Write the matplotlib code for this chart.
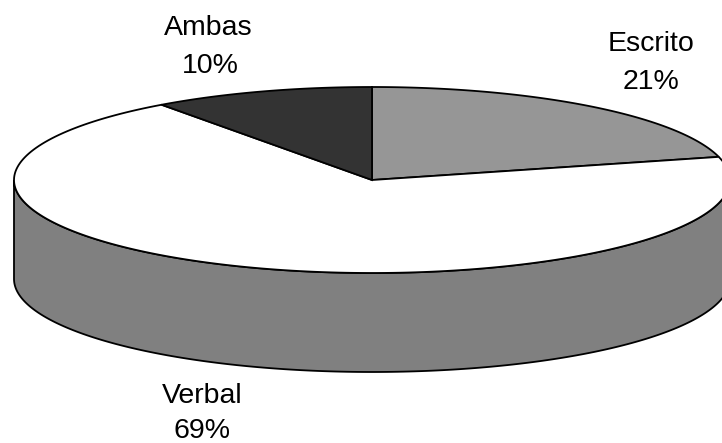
import numpy as np
import matplotlib
matplotlib.use('Agg')
import matplotlib.pyplot as plt
from matplotlib.patches import Polygon

labels = ['Escrito', 'Verbal', 'Ambas']
values = [21, 69, 10]
colors = ['#969696', '#ffffff', '#333333']
wall_color = '#808080'

W, H = 722, 443
fig = plt.figure(figsize=(W / 100, H / 100), dpi=100)
ax = fig.add_axes([0, 0, 1, 1])
ax.set_xlim(0, W)
ax.set_ylim(H, 0)
ax.axis('off')

# pie ellipse in pixels
cx, cy = 372, 180
rx, ry = 358, 93
depth = 99
line_w = 1.3


def pt(a):
    # angle measured clockwise from 12 o'clock
    return cx + rx * np.sin(a), cy - ry * np.cos(a)


# side wall, only the front half shows
t = np.linspace(np.pi / 2, 3 * np.pi / 2, 200)
x, y = pt(t)
wall = np.concatenate([np.c_[x, y], np.c_[x[::-1], y[::-1] + depth]])
ax.add_patch(Polygon(wall, closed=True, fc=wall_color, ec='black', lw=line_w))

start = 0
for lab, v, c in zip(labels, values, colors):
    end = start + v / sum(values) * 2 * np.pi
    t = np.linspace(start, end, 200)
    x, y = pt(t)
    xy = np.vstack([[cx, cy], np.c_[x, y]])
    ax.add_patch(Polygon(xy, closed=True, fc=c, ec='black', lw=line_w))
    start = end

font = {'family': 'Liberation Sans', 'size': 20.5, 'color': 'black', 'ha': 'center', 'va': 'baseline'}
ax.text(651, 51, labels[0], **font)
ax.text(651, 89, '%d%%' % values[0], **font)
ax.text(202, 403, labels[1], **font)
ax.text(202, 438, '%d%%' % values[1], **font)
ax.text(208, 35, labels[2], **font)
ax.text(210, 73, '%d%%' % values[2], **font)

fig.savefig('out.png', dpi=100)
